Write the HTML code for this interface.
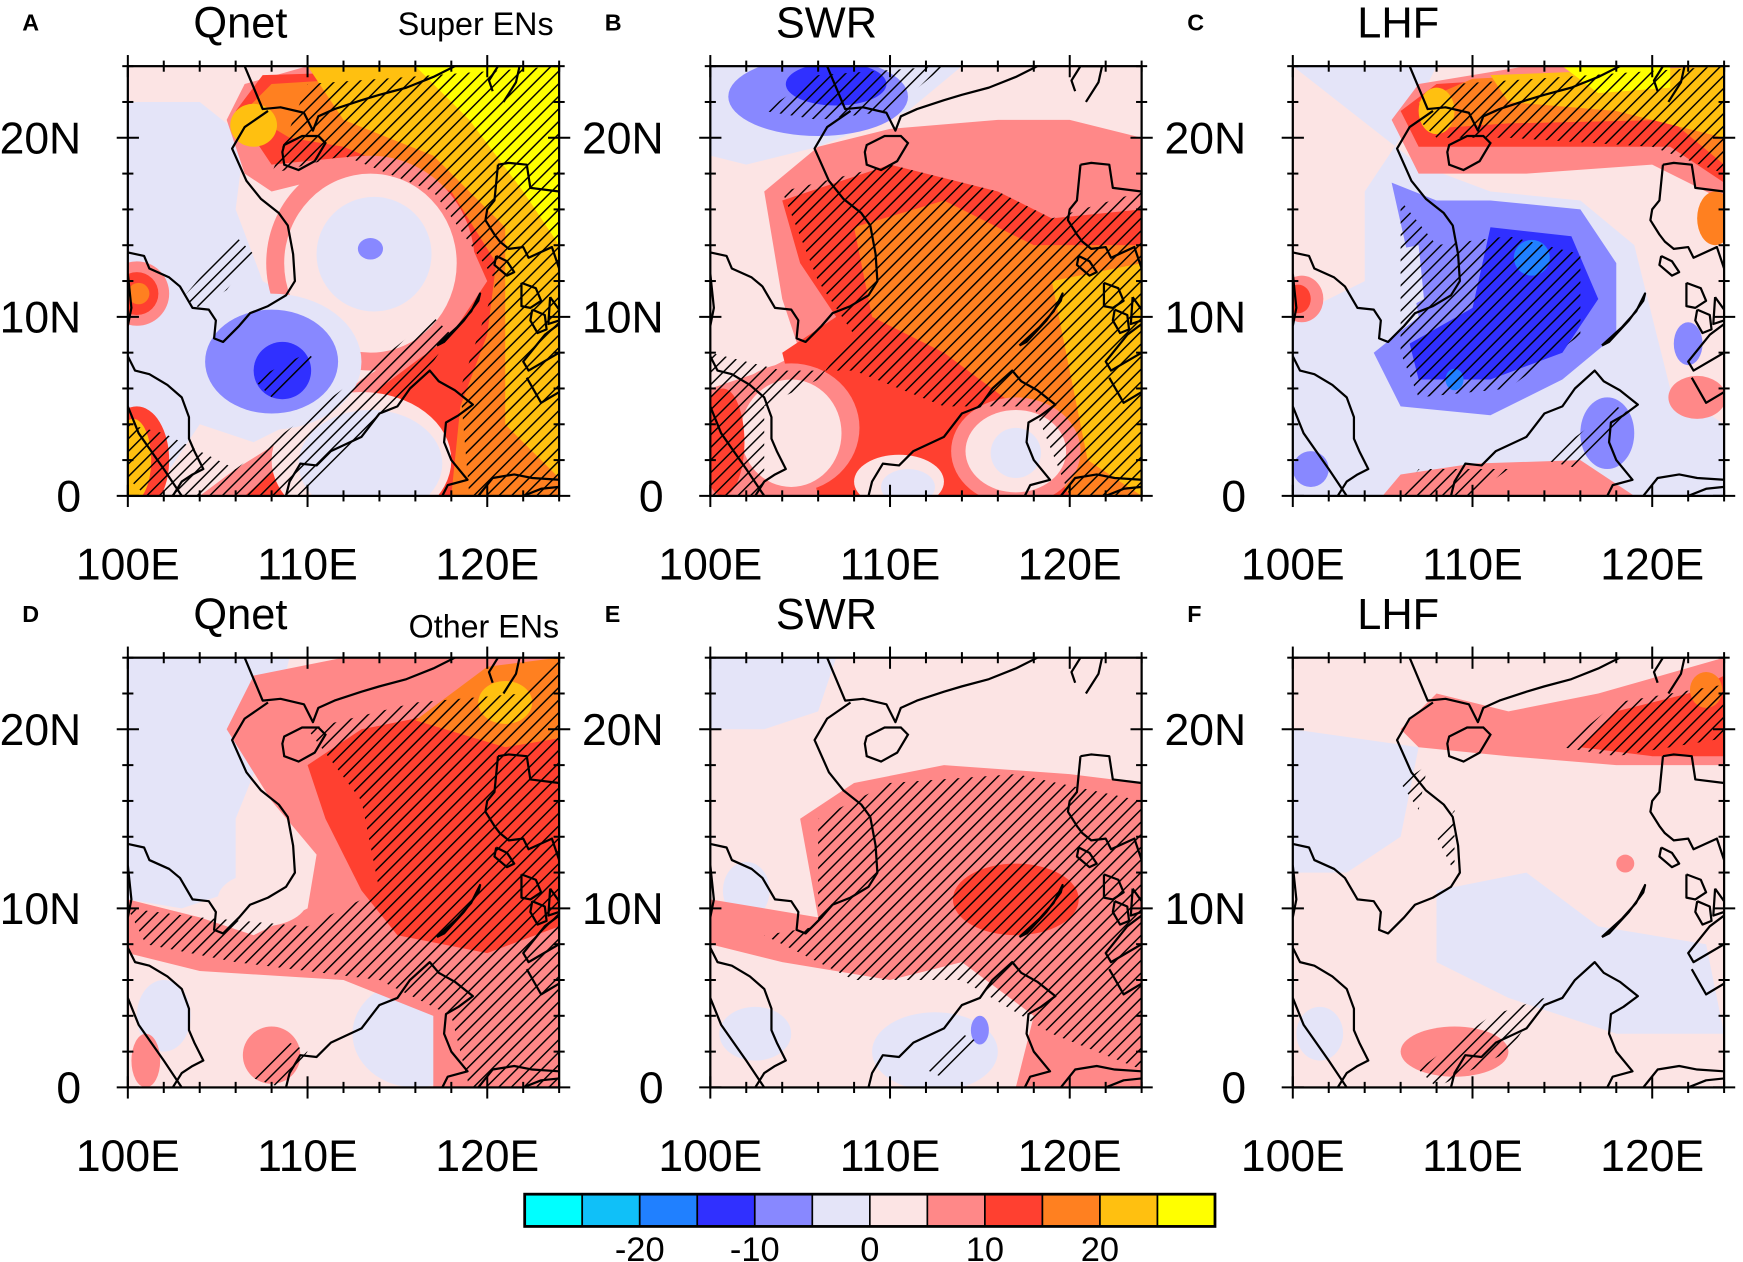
<!DOCTYPE html>
<html><head><meta charset="utf-8">
<style>
html,body{margin:0;padding:0;background:#fff;}
svg{display:block;}
text{font-family:"Liberation Sans",Arial,sans-serif;fill:#000;}
</style></head>
<body>
<svg id="fig" width="1743" height="1262" viewBox="0 0 1568 1135" preserveAspectRatio="none" xmlns="http://www.w3.org/2000/svg">
<defs>
<pattern id="hatch" patternUnits="userSpaceOnUse" width="8" height="8" patternTransform="rotate(45)">
<line x1="0" y1="0" x2="0" y2="8" stroke="#000" stroke-width="2.6"/>
</pattern>
</defs>
</svg>
<script>
// ---- data ----
const levelColors = ["#00ffff","#10c0f8","#2080ff","#3030ff","#8888ff","#e4e4f8","#fce4e4","#ff8888","#ff4030","#ff8020","#ffc010","#ffff00"];
const cbLabels = ["-20","-10","0","10","20"];
const cbLabelIdx = [2,4,6,8,10];
const lonTicks = [100,110,120];
const lonLabels = ["100E","110E","120E"];
const latTicks = [0,10,20];
const latLabels = ["0","10N","20N"];
const panelLetters = ["A","B","C","D","E","F"];
const panelTitles = ["Qnet","SWR","LHF","Qnet","SWR","LHF"];
const panelNotes = ["Super ENs","","","Other ENs","",""];
const fieldA = [
 [5,[[100,22],[104,22],[106.5,20],[106,16],[107.5,12],[111,10],[111,5],[107,3],[104,4],[102,1],[100,0]]],
 [7,[[105.5,21],[106.5,23],[110,24],[124,24],[124,0],[104,0],[106,1.5],[110,4],[113,6.5],[117,9],[119,12],[117,16],[112,18],[108,17],[106.5,18]]],
 [8,[[106,21.5],[107.5,23.5],[124,24],[124,0],[106.5,0],[110,3],[114,6],[118,9],[120,12],[118,16.5],[113,19],[108,18.5]]],
 [9,[[106.5,21.5],[108,23],[124,24],[124,0],[118,0],[118.5,5],[120,9],[120.5,13],[118,17],[112,19.5],[109,20]]],
 [10,[[110,24],[124,24],[124,1],[121,4],[121,10],[121,15],[117,19],[112,21]]],
 [11,[[116,24],[124,24],[124,14],[122,17],[119,21]]],
 [7,"e",113.5,13,5.8,6],
 [6,"e",113.5,13,4.8,5],
 [5,"e",113.7,13.5,3.2,3.2],
 [4,"e",113.5,13.8,0.7,0.6],
 [6,"e",113,2,5,3.8],
 [5,"e",113.5,1.8,4,3],
 [7,"e",100.5,11.3,1.8,1.8],[8,"e",100.5,11.3,1.2,1.2],[9,"e",100.6,11.3,0.6,0.6],
 [8,"e",100.5,2,1.8,3],[10,"e",100.3,2,1,2.3],
 [10,"e",107,20.7,1.3,1.2],
 [5,"e",108,7.5,5,3.8],
 [4,"e",108,7.5,3.7,2.9],
 [3,"e",108.6,7,1.6,1.6]
];
const hatchA = [
 [[108,18],[110,23],[124,24],[124,0],[119,0],[118.5,6],[120.5,12],[117,17],[112,19]],
 [[101,0],[110,0],[116,6],[118,9],[117,10],[112,6],[106,1.5],[102,3.5],[100,4],[100,1]],
 [[103,11],[106,14.5],[107,13.5],[105.5,11.5],[104,10.5]],
 [[107,6.5],[110,8],[110.5,7.5],[108,5.5]]
];
const fieldB = [
 [5,[[100,24],[114,24],[111,21.5],[106,19.5],[102,18.5],[100,19]]],
 [4,"e",106,22.3,5,2.2],
 [3,"e",107,23,2.8,1.2],
 [7,[[103,17],[106,19.5],[110,20.5],[116,21],[120,21],[124,20],[124,0],[100,0],[100,6],[103,7],[105,8],[104,11],[103.5,14]]],
 [8,[[104,16.5],[110,18.5],[116,17],[119,15.5],[124,16],[124,0],[106,0],[104,8],[107,10],[105,13]]],
 [9,[[108,15],[113,16.5],[118,14],[124,14],[124,0],[120,0],[117,5],[113,8],[109,10]]],
 [10,[[119,12],[124,13],[124,0],[121,2],[120,7]]],
 [7,"e",104.5,3.8,3.8,3.6],[6,"e",104.5,3.5,2.8,3],
 [8,"e",100.7,3,1.2,3],
 [7,"e",117,2.5,3.6,3],[6,"e",117,2.5,2.8,2.3],[5,"e",117,2.4,1.4,1.4],
 [6,"e",110.5,0.8,2.5,1.5],[5,"e",111,0.5,1.5,1]
];
const hatchB = [
 [[104,17],[110,18.5],[116,17],[119,15.5],[124,17],[124,0],[120,0],[118,5],[113,5],[108,7],[104,7],[100,8],[100,0],[103,0],[103,5],[106,6.5],[108,9],[106,12]],
 [[103,21.5],[106,23.5],[113,24],[110,21.5],[106,21]]
];
const fieldC = [
 [5,[[100,24],[108,24],[106,20],[104,17],[104,12],[100,10],[100,0],[124,0],[124,4],[121,6],[120,10],[119,14],[116,16.5],[111,17],[107,18.5]]],
 [6,"e",102.5,19,1.6,1.6],[6,"e",102,15,1.5,1.2],
 [4,[[105.5,17.5],[108,16.5],[111,16.5],[116,16],[118,13],[118,9],[115,6.5],[111,4.5],[106,5],[104.5,8],[107,10],[106.5,13]]],
 [5,[[104.5,13.5],[107,14],[107.3,11],[105.5,10]]],
 [3,[[111,15],[115.5,14.5],[117,11],[115,8],[111,6.5],[107,6.5],[106.5,8.5],[110,10.5]]],
 [2,"e",113.3,13.3,1,1],[2,"e",109,6.5,0.5,0.6],
 [7,[[105.5,21],[107,23],[113,24],[124,24],[124,16.5],[120,18.5],[113,18],[107,18]]],
 [8,[[106,21.5],[108,23],[124,24],[124,17.5],[121,19.5],[113,19.5],[107,19.5]]],
 [9,[[107,22],[110,23.3],[124,24],[124,18.5],[121,21],[112,20.8],[107.5,20.5]]],
 [10,[[111,23.5],[124,24],[124,20],[118,21.5],[112,22]]],
 [11,[[115,24],[121,24],[121,22.8],[117,22.5]]],
 [10,"e",108,21.5,1,1.3],
 [9,"e",123.5,15.5,1,1.5],
 [7,"e",100.5,11,1.2,1.3],[8,"e",100.3,11,0.7,0.8],
 [7,[[105,0],[119,0],[116,2],[110,1.8],[106,1.2]]],
 [4,"e",117.5,3.5,1.5,2],[4,"e",122,8.5,0.8,1.2],
 [7,"e",122.5,5.5,1.6,1.2],
 [4,"e",101,1.5,1,1]
];
const hatchC = [
 [[107,21],[109,23],[124,24],[124,18],[120,19.5],[112,20],[108,20]],
 [[106,16.5],[108,14],[112,14.5],[116,13.5],[116,9],[112,6],[107,5.5],[106,8]],
 [[106,0],[110,0],[112,1.5],[107,1.5]],[[114,2],[118,5],[119,4.5],[116,1.5]]
];
const fieldD = [
 [5,[[100,24],[109,24],[108,20],[106,15],[106,11],[103,10],[100,10.5]]],
 [5,"e",116,3,3.5,3],
 [5,"e",102,4,1.5,2],
 [7,[[105.5,20],[107,23],[112,24],[124,24],[124,0],[117,0],[117,4],[112,6],[104,6.5],[100,7.5],[100,10.5],[104,9.5],[107,8.5],[110,10],[110.5,13],[108,16]]],
 [6,"e",107.5,10.5,2.5,1.5],
 [7,"e",108,1.8,1.6,1.6],[7,"e",101,1.5,0.8,1.5],
 [8,[[110,18],[113,20],[118,21],[124,21],[124,9],[120,7.5],[115,8.5],[113,11],[111,15]]],
 [9,[[116,20.5],[120,23.5],[124,24],[124,19.5],[121,19]]],
 [10,"e",121,21.5,1.5,1.2]
];
const hatchD = [
 [[110,20],[116,21.5],[122,22],[124,24],[124,0],[119,0],[118,4],[114,6],[106,7],[101,8],[100,10],[104,9.5],[110,9],[114,11],[113,16]],
 [[107,0.5],[109,2.5],[110,2],[108.5,0]]
];
const fieldE = [
 [5,[[100,24],[107,24],[106,21],[103,20],[100,20]]],
 [5,"e",102,11,1.3,1.6],
 [7,[[105,15],[108,17],[113,18],[120,17.5],[124,17],[124,0],[117,0],[118,4],[114,7],[110,6],[104,7],[100,8],[100,10.5],[106,9.5]]],
 [8,"e",117,10.5,3.5,2],
 [5,"e",112.5,2,3.5,2.2],[4,"e",115,3.2,0.5,0.8],
 [5,"e",102.5,3,2,1.5],
 [7,"e",122.5,1,1.5,1]
];
const hatchE = [
 [[106,15],[110,17],[117,17.5],[124,16],[124,1],[119,3],[114,6],[108,6],[103,8.5],[106,9]],
 [[112,1],[114,3],[115,2.5],[113,0.5]]
];
const fieldF = [
 [5,[[100,20],[107,19],[106,14],[103,12],[100,12]]],
 [5,[[108,11],[113,12],[117,9],[123,8],[124,3],[118,3],[112,5],[108,7]]],
 [5,"e",101.5,3,1.3,1.5],
 [7,[[106,20],[108,22],[112,21],[117,22],[124,24],[124,18],[118,18],[112,18.5],[107,19]]],
 [8,[[116,19],[118,21],[122,22],[124,23],[124,18.5],[120,18.5]]],
 [9,"e",123,22.2,0.9,1],
 [7,"e",109,2,3,1.4],
 [7,"e",118.5,12.5,0.5,0.5]
];
const hatchF = [
 [[115,19],[118,21.5],[124,22.5],[124,19.5],[118,18.5]],
 [[106,17],[107.5,18],[107,15.5]],[[108,14],[109,15.5],[109,12]],
 [[107,1],[111,4],[114,5],[112,2],[108,0]]
];
const fields = [fieldA,fieldB,fieldC,fieldD,fieldE,fieldF];
const baseLevel = [6,6,6,6,6,6];
const hatches = [hatchA,hatchB,hatchC,hatchD,hatchE,hatchF];
const coasts = [
 [[106.5,24],[107.5,21.6],[108.5,21.7],[109.8,21.4],[110.3,20.4],[110.6,21.2],[111.5,21.6],[113,22.1],[114,22.4],[115.5,22.8],[117,23.4],[118.2,24]],
 [[107.8,21.5],[106.5,20.6],[105.8,19.4],[106.6,17.6],[107.4,16.6],[108.4,15.8],[108.9,15.1],[109.2,13.5],[109.3,12],[108.8,11.2],[107.8,10.6],[106.8,10.2],[106.2,9.5],[105.3,8.6],[104.8,8.8],[104.9,9.8],[104.5,10.4],[103.6,10.5],[102.9,11.7],[102.3,12.2],[101.2,12.7],[100.9,13.4],[100,13.6]],
 [[100,12.4],[100.2,10.5],[100,9.5]],
 [[100,7.8],[100.4,7],[101.2,6.8],[102.2,6.2],[103,5.5],[103.4,4.4],[103.4,3.2],[103.7,2.5],[104.2,1.5],[103.6,1.2],[103,0.8],[102.5,0]],
 [[100,5],[100.6,3.5],[101.3,2.5],[102,1.5],[103,0]],
 [[108.8,0],[109,0.8],[109.6,1.8],[110.5,1.7],[111.3,2.5],[113,3.3],[114,4.6],[115,5],[115.7,6],[116.8,7],[117.3,6.4],[118.2,5.9],[119.2,5.1],[118.4,4.5],[117.7,4.1],[117.6,3],[118,2],[118.9,0.9],[117.8,0.6],[117.5,0]],
 [[120.3,22.6],[120.1,23.2],[120.6,24],[121.8,24],[121.6,23.1],[120.9,22]],
 [[120.6,18.5],[120.4,16.5],[120,16],[119.9,15.4],[120.4,14.6],[120.7,14.2],[121.2,13.8],[122,13.9],[122.3,13.3],[123.6,13.9],[124,12.7],[124,17],[122.4,17.2],[122.2,18.5],[121.2,18.6],[120.6,18.5]],
 [[117.2,8.4],[118.3,9.4],[119.1,10.3],[119.6,11.3],[119.5,10.9],[118.7,9.8],[117.6,8.6],[117.2,8.4]],
 [[120.5,13.4],[121.1,13.1],[121.5,12.5],[121.1,12.3],[120.4,12.9],[120.5,13.4]],
 [[121.9,11.9],[122.7,11.6],[123,10.9],[122.4,10.5],[121.9,10.6],[121.9,11.9]],
 [[122.5,10.4],[123.2,10.1],[123.3,9.3],[122.8,9.1],[122.4,9.8],[122.5,10.4]],
 [[123.5,11.1],[124,10.4],[124,9.8],[123.4,9.6],[123.5,11.1]],
 [[124,9.6],[123.2,9],[122,7.5],[122.3,7],[124,8]],
 [[124,5.8],[123,5.2],[122.2,6.6]],
 [[119.5,0],[120.3,1],[121.5,1.2],[122.5,1],[124,0.9]],
 [[122,0],[123,0.4],[124,0.5]]
];
const hainan = [[108.6,19.2],[108.7,18.5],[109.5,18.2],[110.4,18.7],[111,19.7],[110.6,20.1],[109.7,20.1],[108.7,19.6],[108.6,19.2]];

const NS="http://www.w3.org/2000/svg";
const svg=document.getElementById('fig');
const colX=[115,639,1163], rowY=[446,978];
const W=388, H=386.5;
function mk(tag,attrs,parent){const e=document.createElementNS(NS,tag);for(const k in attrs)e.setAttribute(k,attrs[k]);(parent||svg).appendChild(e);return e;}

for(let p=0;p<6;p++){
 const x0=colX[p%3], y0=rowY[Math.floor(p/3)];
 const lx=lon=>x0+(lon-100)/24*W;
 const ly=lat=>y0-lat/24*H;
 const pts=arr=>arr.map(q=>lx(q[0]).toFixed(1)+","+ly(q[1]).toFixed(1)).join(" ");
 const g=mk('g',{});
 
 
 const cid='clip'+p;
 const cp=mk('clipPath',{id:cid},svg);
 mk('rect',{x:x0,y:y0-H,width:W,height:H},cp);
 const fg=mk('g',{'clip-path':'url(#'+cid+')'},g);
 
 
 mk('rect',{x:x0,y:y0-H,width:W,height:H,fill:levelColors[baseLevel[p]]},fg);
 fields[p].forEach(f=>{
  let el;
  if(f[1]==="e"){
   el=mk('ellipse',{cx:lx(f[2]),cy:ly(f[3]),rx:f[4]/24*W,ry:f[5]/24*H,fill:levelColors[f[0]]},fg);
  } else {
   el=mk('polygon',{points:pts(f[1]),fill:levelColors[f[0]],'stroke-linejoin':'round'},fg);
  }
  
  
 });
 hatches[p].forEach(h=>{
  const el=mk('polygon',{points:pts(h),fill:'url(#hatch)'},fg);
  
  
 });
 coasts.forEach(c=>{
  const el=mk('polyline',{points:pts(c),fill:'none',stroke:'#000','stroke-width':2,'stroke-linejoin':'round'},fg);
  
  
 });
 const hn=mk('polygon',{points:pts(hainan),fill:'none',stroke:'#000','stroke-width':2},fg);
 
 
 const fr=mk('rect',{x:x0,y:y0-H,width:W,height:H,fill:'none',stroke:'#000','stroke-width':2},g);
 
 
 for(let lon=100;lon<=124;lon+=2){
  const maj=lonTicks.includes(lon);
  const L=maj?10:5;
  mk('line',{x1:lx(lon),x2:lx(lon),y1:y0-L,y2:y0+L,stroke:'#000','stroke-width':1.8},g);
  mk('line',{x1:lx(lon),x2:lx(lon),y1:y0-H-L,y2:y0-H+L,stroke:'#000','stroke-width':1.8},g);
 }
 for(let lat=0;lat<=24;lat+=2){
  const maj=latTicks.includes(lat);
  const L=maj?10:5;
  mk('line',{x1:x0-L,x2:x0+L,y1:ly(lat),y2:ly(lat),stroke:'#000','stroke-width':1.8},g);
  mk('line',{x1:x0+W-L,x2:x0+W+L,y1:ly(lat),y2:ly(lat),stroke:'#000','stroke-width':1.8},g);
 }
 lonTicks.forEach((lon,i)=>{
  const t=mk('text',{x:lx(lon),y:y0+75,'text-anchor':'middle','font-size':40},g);
  t.textContent=lonLabels[i];
  
  
 });
 latTicks.forEach((lat,i)=>{
  const t=mk('text',{x:x0-42,y:ly(lat)+14,'text-anchor':'end','font-size':40},g);
  t.textContent=latLabels[i];
  
  
 });
 const ty=y0-H-28;
 const lt=mk('text',{x:x0-95,y:ty-4,'font-size':21,'font-weight':'bold'},g);
 lt.textContent=panelLetters[p];
 
 
 const tt=mk('text',{x:x0+(p%3===2?58:59),y:ty+2,'font-size':39},g);
 tt.textContent=panelTitles[p];
 
 
 if(panelNotes[p]){
  const nt=mk('text',{x:x0+W-(p===0?5:0),y:ty+(p===0?0:10),'text-anchor':'end','font-size':29},g);
  nt.textContent=panelNotes[p];
  
  
 }
}
const cb=mk('g',{});


const cbx=472, cby=1074, cbw=621, cbh=29, bw=cbw/levelColors.length;
levelColors.forEach((c,i)=>{
 const r=mk('rect',{x:cbx+i*bw,y:cby,width:bw,height:cbh,fill:c,stroke:'#000','stroke-width':1.5},cb);
 
 
});
mk('rect',{x:cbx,y:cby,width:cbw,height:cbh,fill:'none',stroke:'#000','stroke-width':2.5},cb);
cbLabels.forEach((s,i)=>{
 const t=mk('text',{x:cbx+cbLabelIdx[i]*bw,y:cby+60,'text-anchor':'middle','font-size':31},cb);
 t.textContent=s;
 
 
});
</script>
</body></html>
